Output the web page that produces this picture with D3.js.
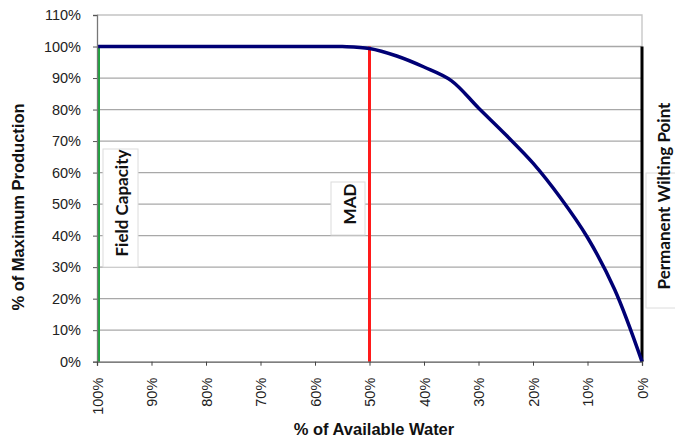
<!DOCTYPE html>
<html>
<head>
<meta charset="utf-8">
<script src="https://cdn.jsdelivr.net/npm/d3@7"></script>
<style>
  body { margin: 0; background: #fff; }
  .tick text { font-family: "Liberation Sans", Arial, sans-serif; font-size: 14.5px; fill: #222; }
  .axis-title { font-family: "Liberation Sans", Arial, sans-serif; font-weight: bold; font-size: 16.5px; fill: #111; }
  .marker-label { font-family: Lato, "Open Sans", sans-serif; font-weight: bold; font-size: 17px; fill: #111; }
</style>
</head>
<body>
<div id="chart"></div>
<script>
// data
let water = [100, 90, 80, 70, 60, 55, 50, 45, 40, 35, 30, 25, 20, 15, 10, 5, 0];
let production = [100, 100, 100, 100, 100, 100, 99.4, 97, 93.5, 89.2, 80.5, 72, 63, 52.1, 39.4, 22.8, 0];

let xTickValues = [100, 90, 80, 70, 60, 50, 40, 30, 20, 10, 0];
let yTickValues = [0, 10, 20, 30, 40, 50, 60, 70, 80, 90, 100, 110];

let markerWater = [100, 50, 0];
let markerTop = [100, 100, 100];
let markerNames = ["Field Capacity", "MAD", "Permanent Wilting Point"];

let W = 675, H = 439;
let margin = {top: 15, left: 97, bottom: 77.3, right: 33};
let width = W - margin.left - margin.right;
let height = H - margin.top - margin.bottom;

let xScale = d3.scaleLinear().domain([100, 0]).range([0, width]);
let yScale = d3.scaleLinear().domain([0, 110]).range([height, 0]);

let svg = d3.select("#chart").append("svg")
    .attr("width", W)
    .attr("height", H)
  .append("g")
    .attr("transform", `translate(${margin.left}, ${margin.top})`);

// gridlines
svg.append("g")
  .selectAll("line")
  .data(yTickValues.filter(d => d > 0 && d < 110))
  .enter().append("line")
    .attr("x1", 0).attr("x2", width)
    .attr("y1", d => yScale(d)).attr("y2", d => yScale(d))
    .attr("stroke", "#a8a8a8")
    .attr("stroke-width", 1.3);

// plot border (top and right)
svg.append("path")
    .attr("d", `M0,${yScale(110)}H${width}V${height}`)
    .attr("fill", "none")
    .attr("stroke", "#c4c4c4")
    .attr("stroke-width", 1.3);

// label boxes, placed relative to their marker line
let boxes = [
  {dx: 6, w: 35, y0: 134, y1: 252, cx: 24.5, cy: 188},
  {dx: -38.5, w: 34, y0: 167, y1: 220, cx: -20, cy: 189},
  {dx: 4, w: 40, y0: 158, y1: 293, cx: 22, cy: 181}
];

let labels = svg.append("g").selectAll("g")
  .data(markerNames)
  .enter().append("g")
    .attr("transform", (d, i) => `translate(${xScale(markerWater[i])}, 0)`);

labels.append("rect")
    .attr("x", (d, i) => boxes[i].dx)
    .attr("y", (d, i) => boxes[i].y0)
    .attr("width", (d, i) => boxes[i].w)
    .attr("height", (d, i) => boxes[i].y1 - boxes[i].y0)
    .attr("fill", "#fff")
    .attr("stroke", "#dcdcdc")
    .attr("stroke-width", 1);

labels.append("text")
    .attr("class", "marker-label")
    .attr("text-anchor", "middle")
    .attr("dy", "0.36em")
    .attr("transform", (d, i) => `translate(${boxes[i].cx}, ${boxes[i].cy}) rotate(-90)`)
    .text(d => d);

// marker lines
let markerColors = ["#1fa33f", "#ff1a1a", "#000"];
svg.append("g")
  .selectAll("line")
  .data(markerWater)
  .enter().append("line")
    .attr("x1", d => xScale(d) + (d === 100 ? 1.5 : 0))
    .attr("x2", d => xScale(d) + (d === 100 ? 1.5 : 0))
    .attr("y1", yScale(0))
    .attr("y2", (d, i) => yScale(markerTop[i]))
    .attr("stroke", (d, i) => markerColors[i])
    .attr("stroke-width", 3);

// production curve (smoothed like the spreadsheet line)
let line = d3.line()
    .x((d, i) => xScale(water[i]))
    .y(d => yScale(d))
    .curve(d3.curveCatmullRom.alpha(0.5));

svg.append("path")
    .datum(production)
    .attr("fill", "none")
    .attr("stroke", "#000075")
    .attr("stroke-width", 3.5)
    .attr("stroke-linejoin", "round")
    .attr("d", line);

// y axis
let yAxis = d3.axisLeft(yScale)
    .tickValues(yTickValues)
    .tickSize(4)
    .tickPadding(12)
    .tickFormat(d => d + "%");

let yG = svg.append("g")
    .attr("class", "y axis")
    .call(yAxis);
yG.select(".domain").attr("stroke", "#777").attr("stroke-width", 1.3);
yG.selectAll(".tick line").attr("stroke", "#555");

// x axis
let xAxis = d3.axisBottom(xScale)
    .tickValues(xTickValues)
    .tickSize(4)
    .tickFormat(d => d + "%");

let xG = svg.append("g")
    .attr("class", "x axis")
    .attr("transform", `translate(0, ${height})`)
    .call(xAxis);
xG.select(".domain").attr("stroke", "#555").attr("stroke-width", 1.3);
xG.selectAll(".tick line").attr("stroke", "#444");
xG.selectAll(".tick text")
    .attr("text-anchor", "end")
    .attr("dy", "0.35em")
    .attr("transform", "translate(0, 16) rotate(-90)")
    .attr("x", 0)
    .attr("y", 0);

// axis titles
svg.append("text")
    .attr("class", "axis-title")
    .attr("text-anchor", "middle")
    .attr("transform", `translate(${18 - margin.left}, ${207 - margin.top}) rotate(-90)`)
    .attr("dy", "0.36em")
    .text("% of Maximum Production");

svg.append("text")
    .attr("class", "axis-title")
    .attr("text-anchor", "middle")
    .attr("x", 374 - margin.left)
    .attr("y", 435 - margin.top)
    .text("% of Available Water");
</script>
</body>
</html>
